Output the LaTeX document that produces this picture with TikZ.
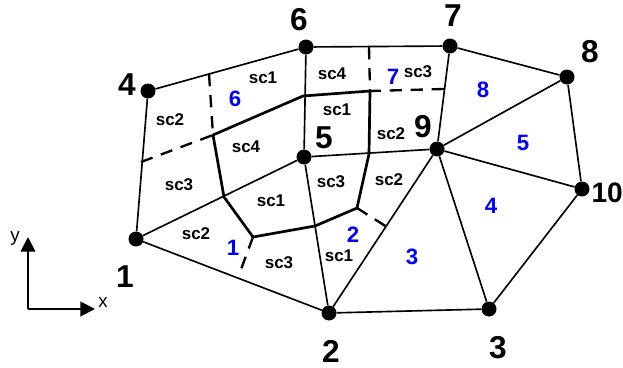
\documentclass[tikz,border=0pt]{standalone}
\usepackage{fontspec}
\setmainfont{Liberation Sans}
\definecolor{zonenum}{HTML}{0000FF}
\usetikzlibrary{arrows.meta}
\tikzset{
  vtx/.style={circle, fill=black, inner sep=0pt, minimum size=12.8pt},
  thin edge/.style={line width=1.4pt},
  thick edge/.style={line width=2.3pt},
  cut/.style={line width=2pt, dash pattern=on 10.5pt off 7.5pt},
  arr/.style={-{Triangle[length=12.5pt,width=12.5pt]}, line width=1.7pt},
  num/.style={font=\fontsize{27}{27}\selectfont\bfseries},
  sc/.style={font=\fontsize{14.5}{14.5}\selectfont\bfseries},
  zone/.style={font=\fontsize{19}{19}\selectfont\bfseries, text=zonenum},
  axis/.style={font=\fontsize{16}{16}\selectfont},
}

\begin{document}
\begin{tikzpicture}[x=0.03cm, y=-0.03cm]
    \useasboundingbox (0,0) rectangle (623,367);

    % outer vertices
    \node[vtx] (n1) at (136,239) {};
    \node[vtx] (n2) at (329,313) {};
    \node[vtx] (n3) at (489,309) {};
    \node[vtx] (n4) at (148,91) {};
    \node[vtx] (n5) at (304,157) {};
    \node[vtx] (n6) at (306,47) {};
    \node[vtx] (n7) at (450,46) {};
    \node[vtx] (n8) at (567,77) {};
    \node[vtx] (n9) at (437,149) {};
    \node[vtx] (n10) at (582,189) {};

    % inner contour
    \coordinate (pa) at (224,197);
    \coordinate (pb) at (253,237);
    \coordinate (pc) at (315,226);
    \coordinate (pd) at (357,208);
    \coordinate (pe) at (369,154);
    \coordinate (pf) at (370,91);
    \coordinate (pg) at (303,96);
    \coordinate (ph) at (213,135);

    % free ends of the cuts
    \coordinate (c1) at (240,272);
    \coordinate (c2) at (387,227);
    \coordinate (c3) at (141,162);
    \coordinate (c4) at (209,74);
    \coordinate (c5) at (369,47);
    \coordinate (c6) at (444,89);

    \draw[thin edge] (n1) -- (n4) -- (n6) -- (n7) -- (n8) -- (n10) -- (n3) -- (n2) -- (n1);
    \draw[thin edge] (n1) -- (n5) -- (n6);
    \draw[thin edge] (n5) -- (n9);
    \draw[thin edge] (n5) -- (n2) -- (n9);
    \draw[thin edge] (n9) -- (n3);
    \draw[thin edge] (n9) -- (n7);
    \draw[thin edge] (n9) -- (n8);
    \draw[thin edge] (n9) -- (n10);

    \draw[thick edge, line join=round] (pa) -- (pb) -- (pc) -- (pd) -- (pe) -- (pf) -- (pg) -- (ph) -- cycle;

    \draw[cut] (pb) -- (c1);
    \draw[cut] (pd) -- (c2);
    \draw[cut] (c3) -- (ph);
    \draw[cut] (c4) -- (ph);
    \draw[cut] (c5) -- (pf);
    \draw[cut] (c6) -- (pf);

    % vertex numbers
    \node[num] (l1) at (125,277) {1};
    \node[num] (l2) at (331,351) {2};
    \node[num] (l3) at (498,348) {3};
    \node[num] (l4) at (127,85) {4};
    \node[num] (l5) at (324,138) {5};
    \node[num] (l6) at (299,20) {6};
    \node[num] (l7) at (453,16) {7};
    \node[num] (l8) at (590,52) {8};
    \node[num] (l9) at (423,127) {9};
    \node[num, font=\fontsize{24}{24}\selectfont\bfseries, inner xsep=0pt, anchor=east] (l10) at (623,193) {10};

    % zone numbers
    \node[zone] (z1) at (233,248) {1};
    \node[zone] (z2) at (353,235) {2};
    \node[zone] (z3) at (412,257) {3};
    \node[zone] (z4) at (491,206) {4};
    \node[zone] (z5) at (523,143) {5};
    \node[zone] (z6) at (235,99) {6};
    \node[zone] (z7) at (393,77) {7};
    \node[zone] (z8) at (483,90) {8};

    % sub-cell labels
    \node[sc] (s1) at (263,78) {sc1};
    \node[sc] (s2) at (170,120) {sc2};
    \node[sc] (s3) at (332,74) {sc4};
    \node[sc] (s4) at (337,110) {sc1};
    \node[sc] (s5) at (418,72) {sc3};
    \node[sc] (s6) at (391,134) {sc2};
    \node[sc] (s7) at (246,147) {sc4};
    \node[sc] (s8) at (179,185) {sc3};
    \node[sc] (s9) at (331,182) {sc3};
    \node[sc] (s10) at (389,180) {sc2};
    \node[sc] (s11) at (271,201) {sc1};
    \node[sc] (s12) at (196,234) {sc2};
    \node[sc] (s13) at (279,263) {sc3};
    \node[sc] (s14) at (339,256) {sc1};

    % axes
    \coordinate (orig) at (28,309);
    \coordinate (xend) at (95,309);
    \coordinate (yend) at (28,237);
    \draw[arr] (orig) -- (xend);
    \draw[arr] (orig) -- (yend);
    \node[axis] (xlab) at (103,303) {x};
    \node[axis] (ylab) at (15,238) {y};
\end{tikzpicture}
\end{document}
